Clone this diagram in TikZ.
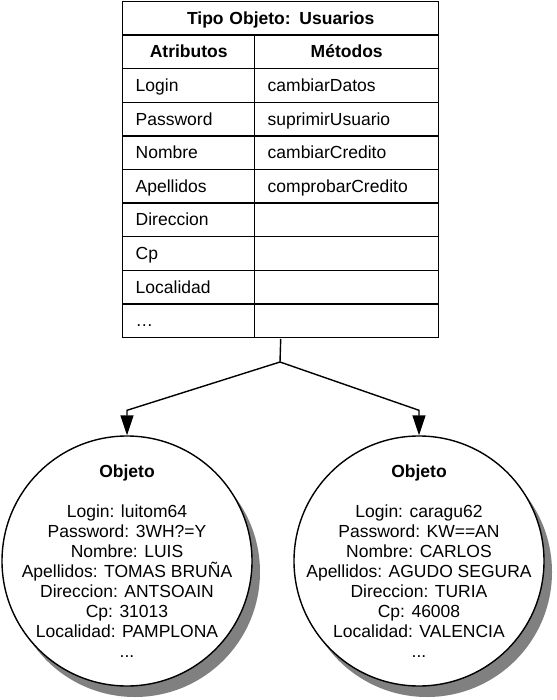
\documentclass[tikz,border=0pt]{standalone}
\usepackage{fontspec}
\setmainfont{Liberation Sans}
\usetikzlibrary{arrows.meta,shadows,fit}

\begin{document}
\begin{tikzpicture}[x=1pt, y=-1pt, line width=1.4pt,
	font=\fontsize{17.5}{20}\selectfont,
	every cell/.style={draw, anchor=north west, minimum height=33.6pt,
		inner xsep=13pt, inner ysep=0pt, text height=12pt, text depth=0pt},
	attr cell/.style={every cell, text width=106pt, align=left},
	meth cell/.style={every cell, text width=158pt, align=left},
	every object/.style={circle, draw, fill=white, minimum size=250pt,
		inner sep=0pt,
		drop shadow={shadow xshift=8pt, shadow yshift=-11pt, fill=black!50, opacity=1}},
	>={Triangle[length=20pt, width=13pt]}]

	\useasboundingbox (0,0) rectangle (556,700);

					% table title
					\node [every cell, text width=290pt, align=center, font=\fontsize{17.5}{20}\selectfont\bfseries] (title) at (122,0.8) {Tipo Objeto: Usuarios};

					% table headings
					\node [attr cell, align=center, font=\fontsize{17.5}{20}\selectfont\bfseries] (attr-0) at (122,34.4) {Atributos};
					\node [meth cell, align=center, font=\fontsize{17.5}{20}\selectfont\bfseries] (meth-0) at (254,34.4) {Métodos};

					% table rows
					\foreach \a/\m [count=\y] in {Login/cambiarDatos, Password/suprimirUsuario, Nombre/cambiarCredito, Apellidos/comprobarCredito, Direccion/{}, Cp/{}, Localidad/{}, \ldots/{}}
					{
					\node [attr cell] (attr-\y) at (122,34.4+\y*33.6) {\a};
					\node [meth cell] (meth-\y) at (254,34.4+\y*33.6) {\m};
					}

					\node [fit=(title)(attr-8)(meth-8), inner sep=0pt] (table) {};

				% objects
				\foreach \i/\x in {1/127, 2/419}
					\node [every object] (object-\i) at (\x,561) {};

				% object data
				\node [align=center] (data-1) at (object-1) {\textbf{Objeto}\\[20pt]
					Login: luitom64\\ Password: 3WH?=Y\\ Nombre: LUIS\\
					Apellidos: TOMAS BRUÑA\\ Direccion: ANTSOAIN\\ Cp: 31013\\
					Localidad: PAMPLONA\\ ...};
				\node [align=center] (data-2) at (object-2) {\textbf{Objeto}\\[20pt]
					Login: caragu62\\ Password: KW==AN\\ Nombre: CARLOS\\
					Apellidos: AGUDO SEGURA\\ Direccion: TURIA\\ Cp: 46008\\
					Localidad: VALENCIA\\ ...};

				% lines from table to objects
				\coordinate (split) at (280,362);
				\draw (table.south) -- (split);
				\foreach \i in {1,2}
					\draw [->] (split) -- ([yshift=25pt]object-\i.north) -- (object-\i.north);

\end{tikzpicture}
\end{document}
